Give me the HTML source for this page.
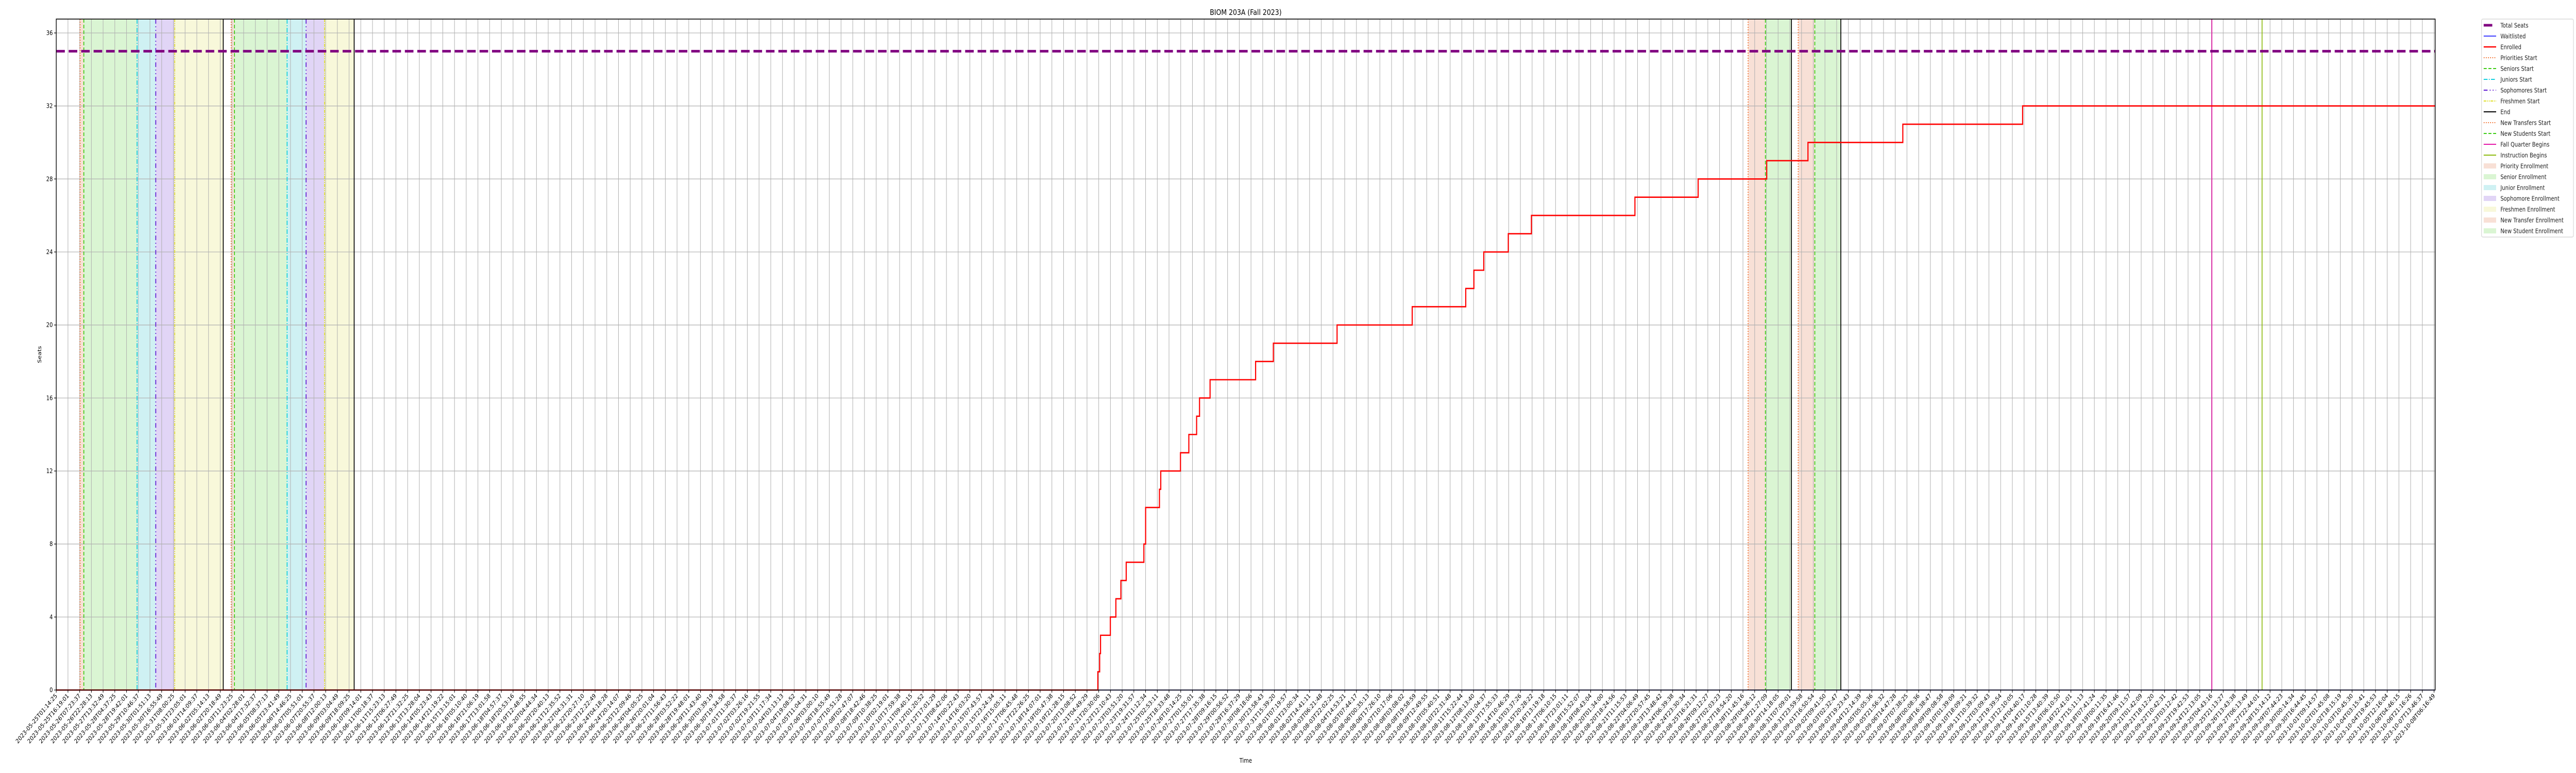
<!DOCTYPE html>
<html><head><meta charset="utf-8">
<style>
html,body{margin:0;padding:0;background:#fff;width:100vw;height:100vh;overflow:hidden;}
svg{display:block;width:100vw;height:100vh;font-family:"DejaVu Sans","Liberation Sans",sans-serif;}
</style></head>
<body>
<svg id="chart" viewBox="0 0 6000 1500" preserveAspectRatio="none" xmlns="http://www.w3.org/2000/svg" overflow="hidden">
<rect x="0" y="0" width="6000" height="1500" fill="#fff"/>
<text x="2901.5" y="29" font-size="15" text-anchor="middle" fill="#000">BIOM 203A (Fall 2023)</text>
<text x="0" y="0" font-size="12" text-anchor="middle" transform="translate(96,688) rotate(-90)">Seats</text>
<text x="2901.5" y="1480" font-size="12" text-anchor="middle">Time</text>
<g id="spans"></g><g id="grid"></g><g id="events"></g><g id="series"></g><g id="axes"></g><g id="legend"></g>
</svg>
<script>
// ---- data (x values in hours since 2023-05-25T01:14:25) ----
const totalSeats = 35;
const waitlisted = 0;
const enrolledTimes = [0,1432.0,1434.5,1435.7,1449.2,1456.8,1463.7,1471.0,1495.3,1497.7,1516.7,1518.5,1545.6,1557.1,1567.8,1571.8,1586.3,1648.9,1673.3,1760.9,1864.2,1937.8,1949.0,1962.6,1996.3,2028.1,2170.4,2257.3,2351.6,2408.3,2538.7,2703.4];
const enrolledValues = [0,1,2,3,4,5,6,7,8,10,11,12,13,14,15,16,17,18,19,20,21,22,23,24,25,26,27,28,29,30,31,32];
const spanStarts = [32.8,37.9,111.1,136.8,162.9,240.5,245.0,317.4,343.5,368.9,2326.0,2349.8,2394.9,2417.7];
const spanEnds   = [37.9,111.1,136.8,162.9,229.6,245.0,317.4,343.5,368.9,409.6,2349.8,2385.6,2417.7,2453.5];
const spanKinds  = ['priority','senior','junior','sophomore','freshman','priority','senior','junior','sophomore','freshman','transfer','newstudent','transfer','newstudent'];
const eventTimes = [32.8,37.9,111.1,136.8,162.9,229.6,240.5,245.0,317.4,343.5,368.9,409.6,2326.0,2349.8,2385.6,2394.9,2417.7,2453.5,2963.6,3032.6];
const eventKinds = ['priority','senior','junior','sophomore','freshman','end','priority','senior','junior','sophomore','freshman','end','transfer','newstudent','end','transfer','newstudent','end','fall','instruction'];
const yTicks = [0,4,8,12,16,20,24,28,32,36];
const tickAnchorIdx = [0,30,70,109,158,203];
const tickAnchorHours = [0,452.3,1089.4,1700.8,2526.4,3269.04];
const tickCount = 204;

// ---- scales ----
const X0=131, X1=5672, Y0=37, YB=1339;
const HMAX=3270.6, YMAX=36.76;
function xScale(h){return X0+(X1-X0)*h/HMAX;}
function yScale(v){return YB-(YB-Y0)*v/YMAX;}
const NS='http://www.w3.org/2000/svg';
function mk(tag,attrs,parent){const e=document.createElementNS(NS,tag);for(const k in attrs)e.setAttribute(k,attrs[k]);parent.appendChild(e);return e;}
const spanFill={priority:'#f8e0d6',senior:'#daf5d3',junior:'#cff1f3',sophomore:'#e1d5f6',freshman:'#f8f8da',transfer:'#f8e0d6',newstudent:'#daf5d3'};
const evStyle={
 priority:{c:'#f2702e',d:'2 3',w:2},senior:{c:'#3ccc14',d:'7 4',w:2},junior:{c:'#10cede',d:'9 3 2 3',w:2},
 sophomore:{c:'#6a2bd6',d:'9 5 2 5 2 5',w:2.2},freshman:{c:'#dede28',d:'6 2 2 2 2 2',w:2},end:{c:'#000',d:'',w:2},
 transfer:{c:'#f2702e',d:'2 3',w:2},newstudent:{c:'#3ccc14',d:'7 4',w:2},fall:{c:'#e518a8',d:'',w:2},instruction:{c:'#8dbb10',d:'',w:2}};

const gS=document.getElementById('spans'),gG=document.getElementById('grid'),gE=document.getElementById('events'),gL=document.getElementById('series'),gA=document.getElementById('axes'),gLeg=document.getElementById('legend');

for(let i=0;i<spanStarts.length;i++){
 const a=xScale(spanStarts[i]),b=xScale(spanEnds[i]);
 const r=mk('rect',{x:a,y:Y0,width:b-a,height:YB-Y0,fill:spanFill[spanKinds[i]]},gS);
 
 
}
function hoursForIdx(i){
 for(let k=0;k<tickAnchorIdx.length-1;k++){
  if(i<=tickAnchorIdx[k+1]){const f=(i-tickAnchorIdx[k])/(tickAnchorIdx[k+1]-tickAnchorIdx[k]);return tickAnchorHours[k]+f*(tickAnchorHours[k+1]-tickAnchorHours[k]);}
 }
 return tickAnchorHours[tickAnchorHours.length-1];
}
const startMs=Date.UTC(2023,4,25,1,14,25);
function p2(n){return (n<10?'0':'')+n;}
function fmt(ms){const d=new Date(ms);return d.getUTCFullYear()+'-'+p2(d.getUTCMonth()+1)+'-'+p2(d.getUTCDate())+'T'+p2(d.getUTCHours())+':'+p2(d.getUTCMinutes())+':'+p2(d.getUTCSeconds());}
const hStep=tickAnchorHours[tickAnchorHours.length-1]/(tickCount-1);
for(let i=0;i<tickCount;i++){
 const x=xScale(i*hStep);
 const gl=mk('line',{x1:x,x2:x,y1:Y0,y2:YB,stroke:'#b0b0b0','stroke-width':1.2},gG);
 
 
 const tk=mk('line',{x1:x,x2:x,y1:YB,y2:YB+5,stroke:'#000','stroke-width':1.2},gA);
 
 
 const t=mk('text',{x:0,y:0,'font-size':12,'text-anchor':'end',transform:'translate('+(x+3)+','+(YB+12)+') rotate(-45)'},gA);
 t.textContent=fmt(startMs+hoursForIdx(i)*3600000);
 
 
}
for(const v of yTicks){
 const y=yScale(v);
 const gl=mk('line',{x1:X0,x2:X1,y1:y,y2:y,stroke:'#b0b0b0','stroke-width':1.2},gG);
 
 
 const tk=mk('line',{x1:X0-5,x2:X0,y1:y,y2:y,stroke:'#000','stroke-width':1.2},gA);
 
 
 const t=mk('text',{x:X0-8,y:y+4,'font-size':12,'text-anchor':'end'},gA);
 t.textContent=String(v);
 
 
}
for(let i=0;i<eventTimes.length;i++){
 const s=evStyle[eventKinds[i]],x=xScale(eventTimes[i]);
 const a={x1:x,x2:x,y1:Y0,y2:YB,stroke:s.c,'stroke-width':s.w};
 if(s.d)a['stroke-dasharray']=s.d;
 const l=mk('line',a,gE);
 
 
}
const ts=mk('line',{x1:X0,x2:X1,y1:yScale(totalSeats),y2:yScale(totalSeats),stroke:'#800080','stroke-width':5,'stroke-dasharray':'20 9'},gL);


const wl=mk('line',{x1:X0,x2:X1,y1:yScale(waitlisted),y2:yScale(waitlisted),stroke:'#0000ff','stroke-width':1.5},gL);


let d='M'+xScale(enrolledTimes[0])+','+yScale(enrolledValues[0]);
for(let i=1;i<enrolledTimes.length;i++){
 const x=xScale(enrolledTimes[i]);
 d+=' L'+x+','+yScale(enrolledValues[i-1])+' L'+x+','+yScale(enrolledValues[i]);
}
d+=' L'+X1+','+yScale(enrolledValues[enrolledValues.length-1]);
const en=mk('path',{d:d,fill:'none',stroke:'#ff0000','stroke-width':2.6,'stroke-linejoin':'miter'},gL);


const fr=mk('rect',{x:X0,y:Y0,width:X1-X0,height:YB-Y0,fill:'none',stroke:'#000','stroke-width':1.6},gA);



const legLabels=['Total Seats','Waitlisted','Enrolled','Priorities Start','Seniors Start','Juniors Start','Sophomores Start','Freshmen Start','End','New Transfers Start','New Students Start','Fall Quarter Begins','Instruction Begins','Priority Enrollment','Senior Enrollment','Junior Enrollment','Sophomore Enrollment','Freshmen Enrollment','New Transfer Enrollment','New Student Enrollment'];
const legKinds=['total','wait','enr','priority','senior','junior','sophomore','freshman','end','transfer','newstudent','fall','instruction','priority','senior','junior','sophomore','freshman','transfer','newstudent'];
const box=mk('rect',{x:5780,y:37,width:214,height:423,rx:3,fill:'#fff',stroke:'#d0d0d0','stroke-width':1.2},gLeg);


for(let i=0;i<legLabels.length;i++){
 const y=49+i*21.0, g=mk('g',{},gLeg);
 
 
 const k=legKinds[i];
 if(k==='total')mk('line',{x1:5785,x2:5805,y1:y,y2:y,stroke:'#800080','stroke-width':5},g);
 else if(k==='wait')mk('line',{x1:5785,x2:5814,y1:y,y2:y,stroke:'#0000ff','stroke-width':1.5},g);
 else if(k==='enr')mk('line',{x1:5785,x2:5814,y1:y,y2:y,stroke:'#ff0000','stroke-width':2.6},g);
 else if(i>=13)mk('rect',{x:5785,y:y-5,width:29,height:10,fill:spanFill[k]},g);
 else{const s=evStyle[k];const a={x1:5785,x2:5814,y1:y,y2:y,stroke:s.c,'stroke-width':s.w};if(s.d)a['stroke-dasharray']=s.d;mk('line',a,g);}
 const t=mk('text',{x:5824,y:y+4.5,'font-size':12,fill:'#222'},g);
 t.textContent=legLabels[i];
}
</script>
</body></html>
